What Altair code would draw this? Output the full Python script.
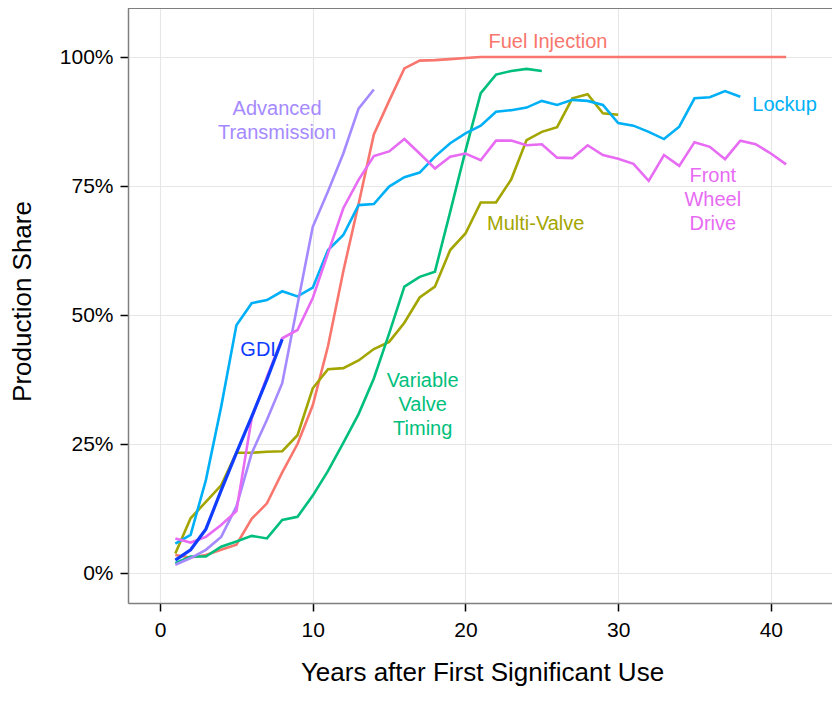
import altair as alt
import pandas as pd

# ---- data (production share, % , by years after first significant use; year 1 first) ----
fuel_injection = [3.5, 3.0, 3.5, 4.5, 5.5, 10.5, 13.5, 19.5, 25.0, 32.5, 44.0, 58.5, 71.5, 85.0,
                  91.5, 97.8, 99.3, 99.4, 99.6, 99.8, 100.0, 100.0, 100.0, 100.0, 100.0, 100.0,
                  100.0, 100.0, 100.0, 100.0, 100.0, 100.0, 100.0, 100.0, 100.0, 100.0, 100.0,
                  100.0, 100.0, 100.0, 100.0]
multi_valve = [3.8, 10.6, 13.8, 17.0, 23.3, 23.3, 23.5, 23.6, 26.7, 35.8, 39.5, 39.7, 41.2, 43.4,
               44.8, 48.5, 53.4, 55.5, 62.6, 65.8, 71.8, 71.8, 76.3, 83.9, 85.5, 86.4, 92.0, 92.8,
               89.1, 88.8]
variable_valve = [1.9, 3.2, 3.2, 5.1, 6.1, 7.2, 6.7, 10.3, 10.9, 15.0, 19.8, 25.2, 30.8, 37.7,
                  46.4, 55.5, 57.4, 58.4, 70.0, 81.8, 93.0, 96.6, 97.3, 97.7, 97.3]
lockup = [5.7, 7.4, 18.0, 32.2, 48.0, 52.3, 52.9, 54.6, 53.6, 55.3, 62.6, 65.5, 71.3, 71.5, 74.9,
          76.7, 77.6, 80.7, 83.3, 85.2, 86.7, 89.4, 89.7, 90.2, 91.5, 90.7, 91.7, 91.5, 90.7, 87.2,
          86.7, 85.5, 84.1, 86.5, 92.0, 92.2, 93.4, 92.3]
advanced_transmission = [1.6, 2.9, 4.5, 7.0, 12.9, 23.2, 29.7, 36.8, 52.0, 67.1, 74.0, 81.3,
                         90.0, 93.7]
front_wheel_drive = [6.7, 5.9, 7.0, 9.3, 12.0, 30.0, 38.0, 45.5, 47.1, 53.3, 62.0, 70.7, 76.2,
                     80.8, 81.7, 84.1, 81.3, 78.4, 80.7, 81.3, 80.0, 83.8, 83.8, 82.9, 83.1, 80.5,
                     80.4, 82.9, 81.0, 80.3, 79.3, 76.0, 81.0, 78.9, 83.5, 82.6, 80.2, 83.8, 83.1,
                     81.3, 79.2]
gdi = [2.5, 4.5, 8.5, 16.0, 23.3, 30.3, 37.5, 45.3]

tech_names = ["Fuel Injection", "Multi-Valve", "Variable Valve Timing", "Lockup",
              "Advanced Transmission", "Front Wheel Drive", "GDI"]
tech_colors = ["#F8766D", "#A3A500", "#00BF7D", "#00B0F6", "#A58AFF", "#E76BF3", "#0F3CFF"]

label_texts = ["Fuel Injection", "Multi-Valve", "Variable\nValve\nTiming", "Lockup",
               "Advanced\nTransmission", "Front\nWheel\nDrive", "GDI"]
label_x = [25.4, 24.6, 17.2, 40.9, 7.66, 36.2, 6.42]
label_y = [102.9, 67.6, 37.2, 90.7, 89.9, 76.9, 43.2]

x_ticks = [0, 10, 20, 30, 40]
y_ticks = [0, 25, 50, 75, 100]

# ---- tables ----
series_values = [fuel_injection, multi_valve, variable_valve, lockup,
                 advanced_transmission, front_wheel_drive, gdi]
rows = []
for name, vals in zip(tech_names, series_values):
    for i, v in enumerate(vals):
        rows.append({"tech": name, "year": i + 1, "share": v})
df = pd.DataFrame(rows)
labels_df = pd.DataFrame({"tech": tech_names, "text": label_texts, "x": label_x, "y": label_y})

W, H = 704, 595
FONT = "Liberation Sans"

xscale = alt.Scale(domain=[-2.1, -2.1 + W / 15.27], nice=False, zero=False)
yscale = alt.Scale(domain=[-5.81, 109.5], nice=False, zero=False)
cscale = alt.Scale(domain=tech_names, range=tech_colors)

xaxis = alt.Axis(values=x_ticks, title="Years after First Significant Use", labelFontSize=21,
                 labelColor="#000000", labelFont=FONT, labelPadding=8, tickSize=8,
                 tickWidth=1.5, tickColor="#000000", domainColor="#7F7F7F", domainWidth=1.5,
                 gridColor="#E6E6E6", gridWidth=1.1, titleFontSize=26, titleFont=FONT,
                 titleColor="#000000", titleFontWeight="normal", titleBaseline="alphabetic",
                 titleY=77, titleX=354, titleAlign="center")
yaxis = alt.Axis(values=y_ticks, labelExpr="datum.value + '%'", title="Production Share",
                 labelFontSize=21, labelColor="#000000", labelFont=FONT, labelPadding=7,
                 tickSize=8, tickWidth=1.5, tickColor="#000000", domainColor="#7F7F7F",
                 domainWidth=1.5, gridColor="#E6E6E6", gridWidth=1.1, titleFontSize=26,
                 titleFont=FONT, titleColor="#000000", titleFontWeight="normal",
                 titleAngle=-90, titleAlign="center", titleBaseline="middle",
                 titleX=-106, titleY=293)

base = alt.Chart(df)

lines = base.transform_filter(alt.datum.tech != "GDI").mark_line(strokeWidth=2.6).encode(
    x=alt.X("year:Q", scale=xscale, axis=xaxis),
    y=alt.Y("share:Q", scale=yscale, axis=yaxis),
    color=alt.Color("tech:N", scale=cscale, legend=None),
    detail="tech:N",
)
gdi_line = base.transform_filter(alt.datum.tech == "GDI").mark_line(strokeWidth=3.2).encode(
    x=alt.X("year:Q", scale=xscale),
    y=alt.Y("share:Q", scale=yscale),
    color=alt.Color("tech:N", scale=cscale, legend=None),
)
texts = alt.Chart(labels_df).mark_text(font=FONT, fontSize=20, lineHeight=24, align="center",
                                       baseline="middle", lineBreak="\n").encode(
    x=alt.X("x:Q", scale=xscale),
    y=alt.Y("y:Q", scale=yscale),
    text="text:N",
    color=alt.Color("tech:N", scale=cscale, legend=None),
)
top_border = alt.Chart(labels_df).mark_rule(color="#7F7F7F", strokeWidth=1.5).encode(
    x=alt.value(0), x2=alt.value(W), y=alt.value(0)
)

chart = alt.layer(lines, gdi_line, texts, top_border).properties(
    width=W, height=H,
    autosize=alt.AutoSizeParams(type="none"),
    padding={"left": 120, "top": 0, "right": 0, "bottom": 86},
).configure_view(stroke=None).configure(background="#FFFFFF")

chart.save("out.html", embed_options={"renderer": "svg", "actions": False})
